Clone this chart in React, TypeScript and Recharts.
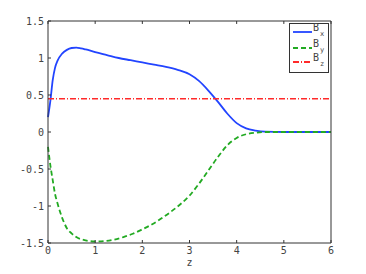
import React from 'react';
import { LineChart, Line, XAxis, YAxis, ReferenceLine } from 'recharts';

const zBx = [0, 0.05, 0.1, 0.15, 0.2, 0.3, 0.4, 0.5, 0.6, 0.7, 0.8, 1.0, 1.25, 1.5, 1.75, 2.0, 2.25, 2.5, 2.75, 3.0, 3.2, 3.4, 3.6, 3.8, 4.0, 4.2, 4.4, 4.6, 5.0, 6.0];
const bxValues = [0.2, 0.42, 0.7, 0.87, 0.96, 1.06, 1.11, 1.135, 1.14, 1.13, 1.115, 1.08, 1.04, 1.0, 0.97, 0.94, 0.91, 0.88, 0.84, 0.78, 0.69, 0.56, 0.41, 0.25, 0.12, 0.05, 0.02, 0.005, 0, 0];

const zBy = [0, 0.05, 0.1, 0.15, 0.2, 0.3, 0.4, 0.5, 0.6, 0.8, 1.0, 1.2, 1.4, 1.6, 1.8, 2.0, 2.2, 2.4, 2.6, 2.8, 3.0, 3.2, 3.4, 3.6, 3.8, 4.0, 4.2, 4.4, 4.6, 5.0, 6.0];
const byValues = [-0.2, -0.45, -0.65, -0.84, -0.96, -1.16, -1.3, -1.37, -1.42, -1.465, -1.48, -1.475, -1.455, -1.42, -1.375, -1.315, -1.25, -1.17, -1.08, -0.98, -0.86, -0.7, -0.52, -0.34, -0.18, -0.08, -0.03, -0.01, 0, 0, 0];

const zBz = [0, 6];
const bzValues = [0.45, 0.45];

const xTicks = [0, 1, 2, 3, 4, 5, 6];
const yTicks = [-1.5, -1, -0.5, 0, 0.5, 1, 1.5];

const bxData = zBx.map((z, i) => ({ z, v: bxValues[i] }));
const byData = zBy.map((z, i) => ({ z, v: byValues[i] }));
const bzData = zBz.map((z, i) => ({ z, v: bzValues[i] }));

const FONT = '"DejaVu Sans Mono", monospace';
const AX = '#333';
const TXT = '#444';
const BX = '#2244ff';
const BY = '#22aa22';
const BZ = '#ff2a2a';

const LegendBox = () => (
  <svg width={40} height={50} style={{ display: 'block', position: 'absolute', left: 289, top: 23 }}>
    <rect x={0.5} y={0.5} width={39} height={49} fill="#fff" stroke="#333" strokeWidth={1} />
    {[
      { y: 9, c: BX, d: undefined, s: 'x' },
      { y: 25, c: BY, d: '5 3', s: 'y' },
      { y: 39, c: BZ, d: '6 2 1 2', s: 'z' },
    ].map((e, i) => (
      <g key={i}>
        <line x1={4} x2={23} y1={e.y} y2={e.y} stroke={e.c} strokeWidth={1.8} strokeDasharray={e.d} />
        <text x={24} y={e.y - 1} fontSize={10} fontFamily={FONT} fill={TXT}>B</text>
        <text x={31} y={e.y + 4} fontSize={7} fontFamily={FONT} fill={TXT}>{e.s}</text>
      </g>
    ))}
  </svg>
);

export default function App() {
  return (
    <div style={{ position: 'absolute', left: 0, top: 0, width: 366, height: 274, background: '#fff' }}>
      <LineChart width={366} height={274} margin={{ top: 21, right: 0, bottom: 0, left: 0 }}>
        <XAxis
          dataKey="z"
          type="number"
          domain={[0, 6]}
          ticks={xTicks}
          xAxisId="b"
          height={31}
          stroke={AX}
          tickSize={-3}
          tickMargin={7}
          tick={{ fontSize: 10, fontFamily: FONT, fill: TXT }}
          label={{ value: 'z', position: 'insideBottom', offset: 8, fontSize: 10, fontFamily: FONT, fill: TXT }}
        />
        <YAxis
          yAxisId="l"
          type="number"
          domain={[-1.5, 1.5]}
          ticks={yTicks}
          width={48}
          stroke={AX}
          tickSize={-3}
          tickMargin={7}
          tick={{ fontSize: 10, fontFamily: FONT, fill: TXT }}
        />
        <YAxis
          yAxisId="r"
          orientation="right"
          type="number"
          domain={[-1.5, 1.5]}
          ticks={yTicks}
          width={35}
          stroke={AX}
          tickSize={-3}
          tick={false}
        />
        <ReferenceLine xAxisId="b" yAxisId="l" y={1.5} stroke={AX} />
        {xTicks.map((t) => (
          <ReferenceLine key={t} xAxisId="b" yAxisId="l" segment={[{ x: t, y: 1.5 }, { x: t, y: 1.46 }]} stroke={AX} />
        ))}
        <Line xAxisId="b" yAxisId="l" data={bxData} dataKey="v" type="monotone" stroke={BX} strokeWidth={1.8} dot={false} isAnimationActive={false} name="Bx" />
        <Line xAxisId="b" yAxisId="l" data={byData} dataKey="v" type="monotone" stroke={BY} strokeWidth={1.8} strokeDasharray="5 3" dot={false} isAnimationActive={false} name="By" />
        <Line xAxisId="b" yAxisId="l" data={bzData} dataKey="v" type="linear" stroke={BZ} strokeWidth={1.5} strokeDasharray="6 2 1 2" dot={false} isAnimationActive={false} name="Bz" />
      </LineChart>
      <LegendBox />
    </div>
  );
}
